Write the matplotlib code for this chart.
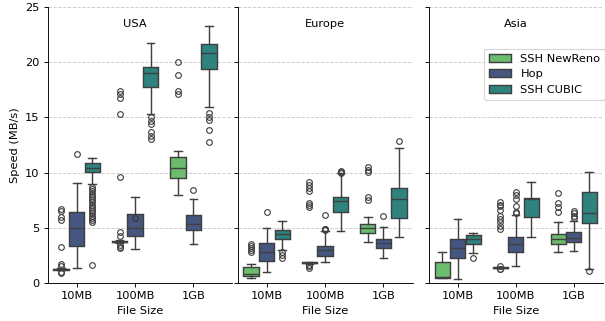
import colorsys
import numpy as np
import matplotlib
matplotlib.use("Agg")
from matplotlib import pyplot as plt
from matplotlib.patches import Patch

regions = ["USA", "Europe", "Asia"]
sizes = ["10MB", "100MB", "1GB"]
protocols = ["SSH NewReno", "Hop", "SSH CUBIC"]

# box stats per region: [size][protocol] -> (whislo, q1, med, q3, whishi)
usa_stats = [
    [(1.15, 1.2, 1.25, 1.3, 1.35), (1.33, 3.38, 5.0, 6.4, 9.1), (9.0, 10.05, 10.44, 10.84, 11.35)],
    [(3.6, 3.7, 3.75, 3.8, 3.9), (3.1, 4.26, 5.0, 6.25, 7.82), (15.3, 17.78, 19.05, 19.54, 21.7)],
    [(7.94, 9.51, 10.44, 11.38, 11.98), (3.53, 4.8, 5.31, 6.13, 7.64), (15.97, 19.38, 20.8, 21.68, 23.3)],
]
usa_fliers = [
    [[6.7, 6.5, 6.0, 5.7, 3.3, 1.7, 1.55, 1.0, 0.95], [11.68],
     [8.7, 8.5, 8.3, 8.1, 7.9, 7.7, 7.5, 7.3, 7.1, 6.9, 6.7, 6.5, 6.3, 6.1, 5.9, 5.7, 5.5, 1.6]],
    [[17.4, 17.1, 16.8, 15.3, 9.6, 4.6, 4.3, 3.45, 3.3, 3.2], [5.92, 5.85],
     [15.0, 14.67, 14.37, 13.65, 13.32, 13.04]],
    [[20.0, 18.87, 17.39, 17.12], [8.42], [15.37, 15.06, 14.76, 13.83, 12.77]],
]

europe_stats = [
    [(0.48, 0.63, 0.8, 1.45, 1.69), (1.02, 1.99, 2.84, 3.6, 5.01), (2.99, 3.96, 4.4, 4.83, 5.64)],
    [(1.75, 1.8, 1.84, 1.88, 1.92), (1.87, 2.45, 2.95, 3.38, 4.75), (4.74, 6.43, 7.43, 7.76, 9.93)],
    [(3.71, 4.56, 4.95, 5.31, 6.0), (2.29, 3.2, 3.6, 4.01, 5.05), (4.14, 5.89, 7.64, 8.58, 12.26)],
]
europe_fliers = [
    [[3.5, 3.35, 3.2, 3.0, 2.85], [6.4], [2.84, 2.54, 2.24]],
    [[9.15, 8.9, 8.6, 8.3, 7.25, 7.05, 6.85, 1.6, 1.5, 1.4], [6.2, 4.9, 4.85, 4.8], [10.1, 10.05, 10.0]],
    [[10.55, 10.25, 10.05, 7.75, 7.5], [6.04], [12.89]],
]

asia_stats = [
    [(0.45, 0.48, 0.52, 1.87, 2.84), (0.33, 2.29, 3.14, 3.99, 5.77), (2.69, 3.53, 3.96, 4.35, 4.5)],
    [(1.33, 1.36, 1.39, 1.42, 1.45), (1.54, 2.84, 3.5, 4.14, 6.16), (4.14, 6.01, 7.61, 7.73, 9.12)],
    [(2.84, 3.5, 3.96, 4.41, 5.55), (2.93, 3.69, 4.05, 4.59, 5.62), (1.27, 5.41, 6.31, 8.21, 10.08)],
]
asia_fliers = [
    [[], [], [2.29]],
    [[7.3, 7.1, 6.97, 6.6, 6.1, 5.8, 5.5, 5.2, 4.9, 1.5, 1.3, 1.25],
     [8.27, 7.97, 7.6, 7.0, 6.46, 6.31], []],
    [[8.12, 7.27, 6.86, 6.46], [6.52, 6.31, 6.1, 5.92], [1.05]],
]

all_stats = [usa_stats, europe_stats, asia_stats]
all_fliers = [usa_fliers, europe_fliers, asia_fliers]


def desaturate(color, prop=0.75):
    h, l, s = colorsys.rgb_to_hls(*color[:3])
    return colorsys.hls_to_rgb(h, l, s * prop)


cmap = plt.get_cmap("viridis")
colors = [desaturate(cmap(0.75)), desaturate(cmap(0.25)), desaturate(cmap(0.5))]
line_color = "#3f3f3f"

fig = plt.figure(figsize=(605 / 82, 321 / 82), dpi=82)
bottom, height = 38 / 321, 276 / 321
positions_px = [(47.5, 232), (237.5, 412.5), (428.7, 602.7)]
xlims = [(-0.5, 2.66), (-0.5, 2.5), (-0.5, 2.5)]

axes = []
for i, region in enumerate(regions):
    l, r = positions_px[i]
    ax = fig.add_axes([l / 605, bottom, (r - l) / 605, height])
    axes.append(ax)
    width = 0.8 / 3
    for s in range(3):
        for p in range(3):
            lo, q1, med, q3, hi = all_stats[i][s][p]
            stat = dict(whislo=lo, q1=q1, med=med, q3=q3, whishi=hi,
                        fliers=np.array(all_fliers[i][s][p]))
            pos = s + (p - 1) * width
            ax.bxp([stat], positions=[pos], widths=width * 0.98, patch_artist=True,
                   showfliers=True,
                   boxprops=dict(facecolor=colors[p], edgecolor=line_color, linewidth=1.25),
                   medianprops=dict(color=line_color, linewidth=1.25),
                   whiskerprops=dict(color=line_color, linewidth=1.25),
                   capprops=dict(color=line_color, linewidth=1.25),
                   flierprops=dict(marker="o", markersize=5, markerfacecolor="none",
                                   markeredgecolor=line_color, markeredgewidth=1.0))
    ax.set_xlim(*xlims[i])
    ax.set_ylim(0, 25)
    ax.set_yticks([0, 5, 10, 15, 20, 25])
    ax.set_xticks([0, 1, 2])
    ax.set_xticklabels(sizes)
    ax.set_xlabel("File Size")
    ax.grid(axis="y", linestyle="--", color="#cccccc", linewidth=0.8)
    ax.set_axisbelow(True)
    ax.spines["top"].set_visible(False)
    ax.spines["right"].set_visible(False)
    ax.text(1, 0.94, region, transform=ax.get_xaxis_transform(), ha="center", va="center")
    if i == 0:
        ax.set_ylabel("Speed (MB/s)")
    else:
        ax.set_yticklabels([])

handles = [Patch(facecolor=colors[p], edgecolor=line_color, linewidth=1.25, label=protocols[p])
           for p in range(3)]
axes[2].legend(handles=handles, loc="upper left", bbox_to_anchor=(0.285, 0.868))

fig.savefig("out.png", dpi=82)
